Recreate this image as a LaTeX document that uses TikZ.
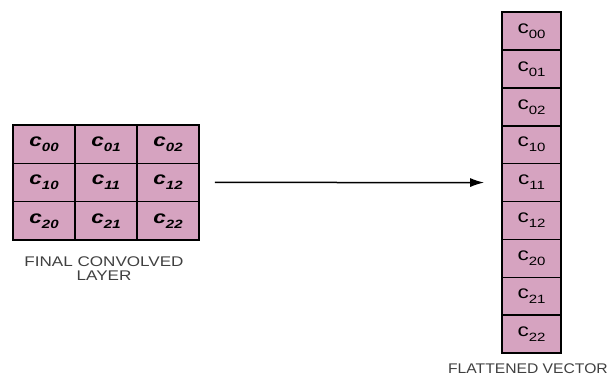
\documentclass[tikz,border=0pt]{standalone}
\usepackage{fontspec}
\usepackage{graphicx}
\setmainfont{Liberation Sans}
\usetikzlibrary{arrows.meta}
\definecolor{cellpink}{RGB}{214,163,192}
\newcommand{\gcell}[1]{\scalebox{1.25}[1]{\fontsize{18}{18}\selectfont\bfseries\itshape c\raisebox{-0.28em}{\fontsize{12}{12}\selectfont #1}}}
\newcommand{\vcell}[1]{\scalebox{1.25}[1]{\fontsize{18}{18}\selectfont c\raisebox{-0.28em}{\fontsize{12}{12}\selectfont #1}}}
\tikzset{
  gridcell/.style={draw=black, line width=1.6pt, fill=cellpink, minimum width=62pt, minimum height=38.3pt, inner sep=0pt, anchor=center},
  veccell/.style={draw=black, line width=1.6pt, fill=cellpink, minimum width=59pt, minimum height=37.9pt, inner sep=0pt, anchor=center},
  caption/.style={text=black!75, inner sep=0pt}
}
\newcommand{\capt}[2][1.22]{\scalebox{#1}[1]{\fontsize{14}{14}\selectfont #2}}
\begin{document}
\begin{tikzpicture}[x=1pt,y=-1pt]
\useasboundingbox (0,0) rectangle (610,378);
\fill[white] (0,0) rectangle (610,378);
% grid
\foreach \r in {0,1,2}{
  \foreach \c in {0,1,2}{
    \node[gridcell] (g\r\c) at ({44+62*\c},{144.15+38.3*\r}) {\gcell{\r\c}};
  }
}
% vector
\foreach \r/\c [count=\i from 0] in {0/0,0/1,0/2,1/0,1/1,1/2,2/0,2/1,2/2}{
  \node[veccell] (v\r\c) at (531.5,{30.95+37.9*\i}) {\vcell{\r\c}};
}
\draw[line width=1.5pt, -{Latex[length=14pt,width=9pt]}] ([xshift=15pt]g12.east) -- ([xshift=-17pt]v11.west);
\node[caption] (lblgrid1) at (104,262) {\capt{FINAL CONVOLVED}};
\node[caption] (lblgrid2) at (104,276) {\capt{LAYER}};
\node[caption, anchor=east] (lblvec) at (608,369) {\capt[1.12]{FLATTENED VECTOR}};
\end{tikzpicture}
\end{document}
